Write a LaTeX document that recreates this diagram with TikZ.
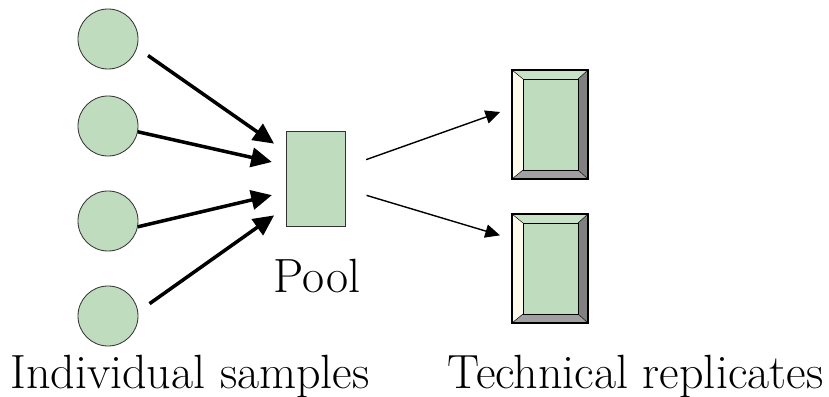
\documentclass[tikz,border=0pt]{standalone}
\usepackage{fontspec}
\usepackage{tikz}
\usetikzlibrary{arrows.meta, positioning, calc}
\definecolor{samplegreen}{RGB}{192,220,190}
\definecolor{bevlight}{RGB}{255,250,236}
\definecolor{bevtop}{RGB}{200,226,200}
\definecolor{bevdark}{RGB}{128,128,128}
\definecolor{bevbot}{RGB}{160,160,164}
\definecolor{edgegray}{RGB}{50,50,50}

\begin{document}
\begin{tikzpicture}[
    x=0.03cm, y=-0.03cm,
    sample/.style={
        circle, draw=edgegray, fill=samplegreen,
        line width=0.7pt, minimum size=1.8cm, inner sep=0pt
    },
    pool/.style={
        rectangle, draw=edgegray, fill=samplegreen,
        line width=0.8pt, minimum width=1.77cm, minimum height=2.85cm,
        inner sep=0pt
    },
    rep/.style={
        rectangle, draw=black, fill=samplegreen,
        line width=0.9pt, minimum width=2.28cm, minimum height=3.27cm,
        inner sep=0pt,
        path picture={
            \coordinate (sw) at (path picture bounding box.south west);
            \coordinate (ne) at (path picture bounding box.north east);
            \coordinate (nw) at (sw|-ne);
            \coordinate (se) at (ne|-sw);
            \coordinate (isw) at ($(sw)+(0.33cm,0.27cm)$);
            \coordinate (ine) at ($(ne)+(-0.3cm,-0.27cm)$);
            \coordinate (inw) at (isw|-ine);
            \coordinate (ise) at (ine|-isw);
            \fill[bevlight] (sw) -- (nw) -- (inw) -- (isw) -- cycle;
            \fill[bevtop] (nw) -- (ne) -- (ine) -- (inw) -- cycle;
            \fill[bevdark] (ne) -- (se) -- (ise) -- (ine) -- cycle;
            \fill[bevbot] (se) -- (sw) -- (isw) -- (ise) -- cycle;
            \draw[line width=0.8pt] (isw) rectangle (ine);
            \draw[line width=0.4pt] (sw) -- (isw) (nw) -- (inw) (ne) -- (ine) (se) -- (ise);
        }
    },
    inarr/.style={-{Triangle[length=0.62cm, width=0.58cm]}, line width=3pt},
    outarr/.style={-{Triangle[length=0.44cm, width=0.4cm]}, line width=1.2pt},
    lbl/.style={font=\fontsize{41}{49}\selectfont, anchor=base, inner sep=0pt}
]
\useasboundingbox (0,0) rectangle (829,397);

\node[sample] (s1) at (108,39)  {};
\node[sample] (s2) at (108,126) {};
\node[sample] (s3) at (108,221) {};
\node[sample] (s4) at (108,316) {};

\node[pool] (pool) at (315.5,178.5) {};

\node[rep] (r1) at (550,124.5) {};
\node[rep] (r2) at (550,268.5) {};

\draw[inarr, shorten <=0.4cm, shorten >=0.42cm]
    (s1.-17) -- ($(pool.north west)!0.22!(pool.south west)$);
\draw[inarr, shorten >=0.42cm]
    (s2.-11) -- ($(pool.north west)!0.36!(pool.south west)$);
\draw[inarr, shorten >=0.42cm]
    (s3.-11) -- ($(pool.north west)!0.64!(pool.south west)$);
\draw[inarr, shorten <=0.42cm, shorten >=0.42cm]
    (s4.8) -- ($(pool.north west)!0.8!(pool.south west)$);

\draw[outarr, shorten <=0.66cm, shorten >=0.36cm]
    ($(pool.north east)!0.38!(pool.south east)$) -- ($(r1.north west)!0.35!(r1.south west)$);
\draw[outarr, shorten <=0.66cm, shorten >=0.36cm]
    ($(pool.north east)!0.61!(pool.south east)$) -- ($(r2.north west)!0.23!(r2.south west)$);

\node[lbl] (poollbl) at (317,293) {Pool};
\node[lbl] (indlbl) at (190,388) {Individual samples};
\node[lbl] (techlbl) at (635.5,388) {Technical replicates};

\end{tikzpicture}
\end{document}
